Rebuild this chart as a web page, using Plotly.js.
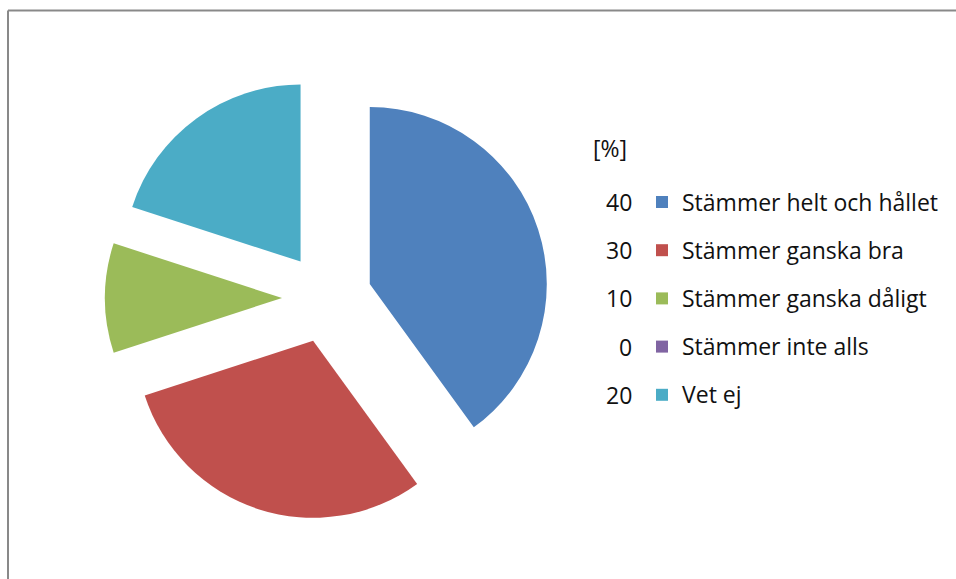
<!DOCTYPE html>
<html>
<head>
<meta charset="utf-8">
<script src="https://cdn.plot.ly/plotly-3.0.1.min.js"></script>
<style>
  html, body { margin: 0; padding: 0; background: #fff; }
  #chart { width: 956px; height: 579px; }
</style>
</head>
<body>
<div id="chart"></div>
<script>
// ---- data ----
const categories = [
  "Stämmer helt och hållet",
  "Stämmer ganska bra",
  "Stämmer ganska dåligt",
  "Stämmer inte alls",
  "Vet ej"
];
const values = [40, 30, 10, 0, 20];
const colors = ["#4F81BD", "#C0504D", "#9BBB59", "#8064A2", "#4BACC6"];
const unitLabel = "[%]";

// ---- layout constants ----
const W = 956, H = 579;
const px = v => v / W;
const py = v => 1 - v / H;
const textSize = 23;
const rowH = 48.2;
const firstRowY = 202;  // px, centre of first legend row
const legendFontSize = (rowH - 3) / 1.3;

const trace = {
  type: "pie",
  labels: categories.map(c => '<span style="font-size:' + textSize + 'px;baseline-shift:5px">' + c + '</span>'),
  values: values,
  sort: false,
  direction: "clockwise",
  rotation: 0,
  pull: values.map(() => 0.254),
  marker: { colors: colors, line: { width: 0 } },
  textinfo: "none",
  hoverinfo: "label+value",
  domain: { x: [px(105), px(549)], y: [py(520), py(76)] }
};

const annotations = [{
  text: unitLabel, xref: "paper", yref: "paper",
  x: px(591), y: py(148), xanchor: "left", yanchor: "middle",
  showarrow: false, font: { size: textSize, color: "#111111" }
}];
values.forEach((v, i) => {
  annotations.push({
    text: String(v), xref: "paper", yref: "paper",
    x: px(634), y: py(firstRowY + i * rowH), xanchor: "right", yanchor: "middle",
    showarrow: false, font: { size: textSize, color: "#111111" }
  });
});

const layout = {
  width: W, height: H,
  margin: { l: 0, r: 0, t: 0, b: 0 },
  paper_bgcolor: "#ffffff",
  font: { family: "'Open Sans', Lato, sans-serif", color: "#111111", size: textSize },
  showlegend: true,
  legend: {
    x: px(642), y: py(firstRowY - rowH / 2 - 5), xanchor: "left", yanchor: "top",
    font: { size: legendFontSize, color: "#111111" },
    bgcolor: "rgba(0,0,0,0)", borderwidth: 0
  },
  annotations: annotations,
  shapes: [
    { type: "line", xref: "paper", yref: "paper", x0: px(8), x1: px(8), y0: -0.05, y1: py(10.5),
      line: { color: "#898989", width: 2 } },
    { type: "line", xref: "paper", yref: "paper", x0: px(8), x1: 1.05, y0: py(10.5), y1: py(10.5),
      line: { color: "#898989", width: 2 } }
  ]
};

Plotly.newPlot("chart", [trace], layout, { displayModeBar: false, staticPlot: true });
</script>
</body>
</html>
